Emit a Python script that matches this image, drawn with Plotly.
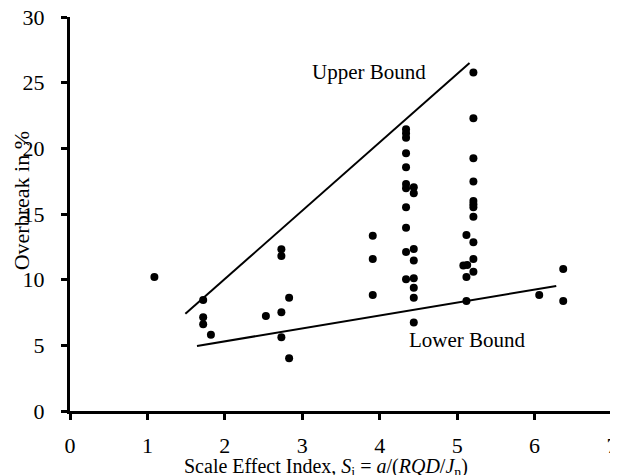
import plotly.graph_objects as go

# Scatter data: Scale Effect Index (x) vs Overbreak in % (y)
si_values = [1.09, 1.72, 1.72, 1.72, 1.82, 2.53, 2.73, 2.73, 2.73, 2.73, 2.83, 2.83,
             3.91, 3.91, 3.91,
             4.34, 4.34, 4.34, 4.34, 4.34, 4.34, 4.34, 4.34, 4.34, 4.34, 4.34,
             4.44, 4.44, 4.44, 4.44, 4.44, 4.44, 4.44, 4.44,
             5.12, 5.08, 5.13, 5.12, 5.12,
             5.21, 5.21, 5.21, 5.21, 5.21, 5.21, 5.21, 5.21, 5.21, 5.21, 5.21,
             6.06, 6.37, 6.37]
overbreak_values = [10.2, 8.45, 7.13, 6.6, 5.81, 7.24, 12.31, 11.8, 7.52, 5.61, 8.63, 4.01,
                    13.35, 11.58, 8.83,
                    21.45, 21.15, 20.8, 19.63, 18.56, 17.29, 16.96, 15.51, 13.96, 12.11, 10.03,
                    17.04, 16.58, 12.34, 11.45, 10.1, 9.39, 8.63, 6.73,
                    13.4, 11.07, 11.12, 10.2, 8.38,
                    25.77, 22.3, 19.24, 17.47, 15.99, 15.74, 15.51, 14.8, 12.85, 11.58, 10.6,
                    8.83, 10.81, 8.38]

upper_x = [1.49, 5.16]
upper_y = [7.4, 26.5]
lower_x = [1.64, 6.28]
lower_y = [4.95, 9.52]

x_ticks = [0, 1, 2, 3, 4, 5, 6, 7]
y_ticks = [0, 5, 10, 15, 20, 25, 30]

FONT = "Liberation Serif, Times New Roman, serif"

fig = go.Figure()
fig.add_trace(go.Scatter(x=upper_x, y=upper_y, mode="lines",
                         line=dict(color="black", width=2), showlegend=False))
fig.add_trace(go.Scatter(x=lower_x, y=lower_y, mode="lines",
                         line=dict(color="black", width=2), showlegend=False))
fig.add_trace(go.Scatter(x=si_values, y=overbreak_values, mode="markers",
                         marker=dict(color="black", size=8), showlegend=False))

fig.add_annotation(x=3.86, y=25.8, text="Upper Bound", showarrow=False,
                   font=dict(family=FONT, size=21, color="black"))
fig.add_annotation(x=5.13, y=5.4, text="Lower Bound", showarrow=False,
                   font=dict(family=FONT, size=21, color="black"))

fig.add_annotation(xref="paper", yref="paper", x=0.472, y=-0.144,
                   text="Scale Effect Index, <i>S</i><sub>i</sub> = <i>a</i>/(<i>RQD</i>/<i>J</i><sub>n</sub>)",
                   showarrow=False, yanchor="middle",
                   font=dict(family=FONT, size=20, color="black"))
fig.add_annotation(xref="paper", yref="paper", x=-0.088, y=0.533,
                   text="Overbreak in %", textangle=-90, showarrow=False,
                   xanchor="center", yanchor="middle",
                   font=dict(family=FONT, size=22, color="black"))

fig.update_xaxes(range=[0, 7], tickvals=x_ticks, ticktext=[str(v) for v in x_ticks],
                 showline=True, linecolor="black", linewidth=3,
                 ticks="outside", ticklen=6, tickwidth=3, tickcolor="black",
                 showgrid=False, zeroline=False, ticklabelstandoff=7,
                 automargin=False, ticklabeloverflow="allow",
                 tickfont=dict(family=FONT, size=22, color="black"))
fig.update_yaxes(range=[0, 30], tickvals=y_ticks, ticktext=[str(v) for v in y_ticks],
                 showline=True, linecolor="black", linewidth=3,
                 ticks="outside", ticklen=6, tickwidth=3, tickcolor="black",
                 showgrid=False, zeroline=False, ticklabelstandoff=12,
                 automargin=False, ticklabeloverflow="allow",
                 tickfont=dict(family=FONT, size=22, color="black"))

# page body adds an 8 px offset, so the figure is sized/margined to compensate
fig.update_layout(width=618, height=467,
                  margin=dict(l=62, r=14, t=9, b=64),
                  paper_bgcolor="white", plot_bgcolor="white")

fig.write_html("out.html")
